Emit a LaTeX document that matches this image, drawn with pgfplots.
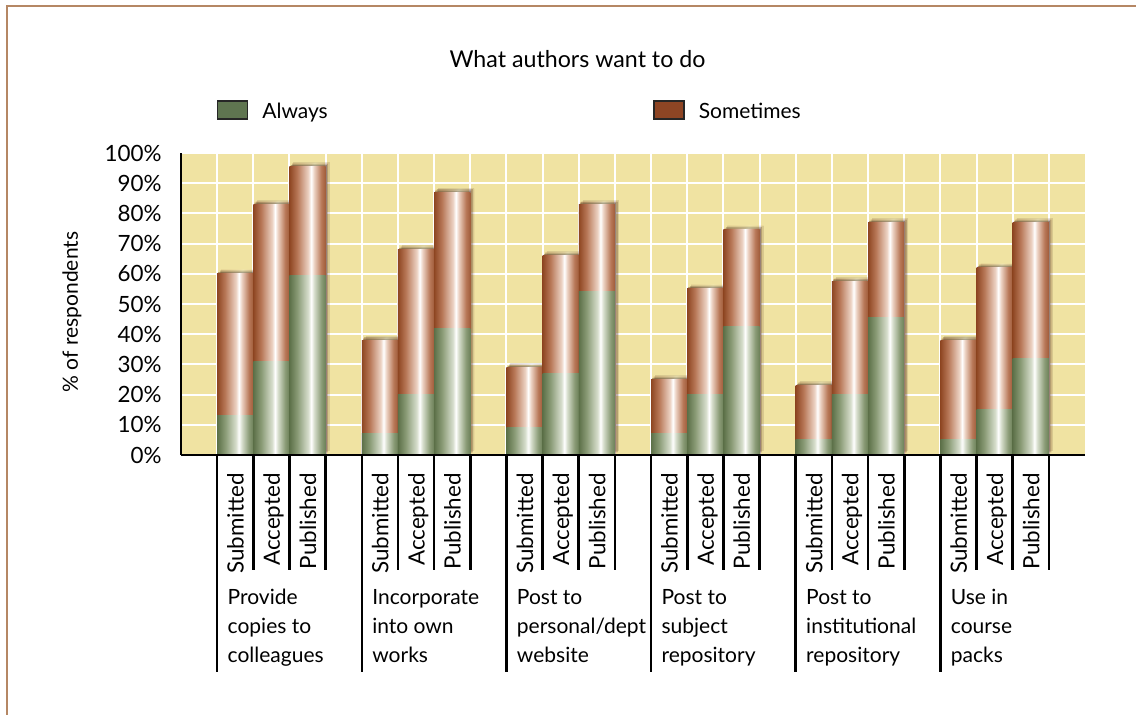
\documentclass[border=0pt]{standalone}
\usepackage{fontspec}
\setmainfont{Lato}
\usepackage{pgfplots}
\pgfplotsset{compat=1.18}
\usepackage{pgfplotstable}
\usetikzlibrary{shadows}

\definecolor{bgY}{RGB}{240,227,162}
\definecolor{gD}{RGB}{92,112,72}
\definecolor{gM}{RGB}{138,155,118}
\definecolor{gL}{RGB}{215,222,205}
\definecolor{gR}{RGB}{108,128,88}
\definecolor{bD}{RGB}{142,70,34}
\definecolor{bM}{RGB}{184,120,88}
\definecolor{bL}{RGB}{236,210,195}
\definecolor{bR}{RGB}{160,92,58}
\definecolor{legG}{RGB}{95,117,80}
\definecolor{legB}{RGB}{142,69,36}
\definecolor{frameC}{RGB}{181,135,100}

\pgfdeclarehorizontalshading{greenbar}{100bp}{color(0bp)=(gD); color(25bp)=(gD); color(36bp)=(gM); color(51bp)=(gL); color(55bp)=(white); color(59bp)=(gL); color(69bp)=(gM); color(75bp)=(gR); color(100bp)=(gR)}
\pgfdeclarehorizontalshading{brownbar}{100bp}{color(0bp)=(bD); color(25bp)=(bD); color(36bp)=(bM); color(51bp)=(bL); color(55bp)=(white); color(59bp)=(bL); color(69bp)=(bM); color(75bp)=(bR); color(100bp)=(bR)}

% x: bar centre; always: % always; total: always + sometimes
\pgfplotstableread{
x always total
1.5 13 60
2.5 31 83
3.5 59.5 95.5
5.5 7 38
6.5 20 68
7.5 42 87
9.5 9 29
10.5 27 66
11.5 54 83
13.5 7 25
14.5 20 55
15.5 42.5 74.5
17.5 5 23
18.5 20 57.5
19.5 45.5 77
21.5 5 38
22.5 15 62
23.5 32 77
}\datatable

\newcommand{\lbl}{\fontsize{10.5}{13}\selectfont}

\begin{document}
\fontsize{11.2}{14.7}\selectfont
\begin{tikzpicture}
\useasboundingbox (0,0) rectangle (568pt,357.5pt);
\draw[frameC, line width=1pt] (3.35pt,0pt) -- (3.35pt,354.6pt) -- (568pt,354.6pt);
\begin{axis}[
  at={(90.5pt,130pt)}, anchor=south west,
  scale only axis, width=452pt, height=151pt,
  xmin=0, xmax=25, ymin=0, ymax=100,
  enlargelimits=false,
  axis x line*=bottom, axis y line*=left,
  axis line style={black, line width=1pt},
  axis background/.style={fill=bgY},
  xtick={1,...,24}, xticklabels={},
  ytick={0,10,...,100},
  yticklabel={\pgfmathprintnumber{\tick}\%},
  /pgf/number format/assume math mode=true,
  major tick length=0pt,
  y tick label style={xshift=-5.8pt},
  grid=major,
  major grid style={white, line width=1pt},
  clip=false,
  title={\fontsize{11.6}{14}\selectfont What authors want to do},
  every axis title/.style={at={(0.4386,1.283)}, anchor=base, inner sep=0pt},
  ylabel={\lbl\% of respondents},
  every axis y label/.style={at={(-0.1206,0.4735)}, rotate=90, anchor=center, inner sep=0pt},
  legend columns=2,
  legend style={at={(0.0398,1.139)}, anchor=west, draw=none, fill=none, inner sep=0pt, outer sep=0pt,
    font=\lbl,
    nodes={anchor=base west, inner sep=0pt, text width=195.5pt},
    /tikz/every odd column/.append style={column sep=7pt},
    /tikz/every even column/.append style={column sep=0pt}},
  brownbar/.style={forget plot, ybar, bar width=1, bar shift=0pt, draw=none, shading=brownbar,
    drop shadow={shadow xshift=0.6pt, shadow yshift=0.7pt, opacity=0.22, fill=black},
    drop shadow={shadow xshift=1.3pt, shadow yshift=1.4pt, opacity=0.15, fill=black},
    drop shadow={shadow xshift=2.0pt, shadow yshift=2.1pt, opacity=0.08, fill=black}},
  greenbar/.style={forget plot, ybar, bar width=1, bar shift=0pt, draw=none, shading=greenbar},
]
\addlegendimage{legend image code/.code={\draw[fill=legG, draw=black!85, line width=0.7pt] (0pt,-0.4pt) rectangle (15pt,8.6pt);}}
\addlegendentry{Always}
\addlegendimage{legend image code/.code={\draw[fill=legB, draw=black!85, line width=0.7pt] (0pt,-0.4pt) rectangle (15pt,8.6pt);}}
\addlegendentry{Sometimes}

% one plot per bar, so that each bar gets its own shading
\pgfplotsinvokeforeach{1:2,2:3,3:4,5:6,6:7,7:8,9:10,10:11,11:12,13:14,14:15,15:16,17:18,18:19,19:20,21:22,22:23,23:24}{
  \addplot[brownbar, restrict x to domain=#1] table[x=x, y=total] {\datatable};
}
\pgfplotsinvokeforeach{1:2,2:3,3:4,5:6,6:7,7:8,9:10,10:11,11:12,13:14,14:15,15:16,17:18,18:19,19:20,21:22,22:23,23:24}{
  \addplot[greenbar, restrict x to domain=#1] table[x=x, y=always] {\datatable};
}

\draw[line width=1pt] (axis cs:0,0) -- (axis cs:25,0);
\draw[line width=1pt] (axis cs:0,0) -- (axis cs:0,100);
\pgfplotsinvokeforeach{1,5,9,13,17,21}{\draw[line width=1.3pt] (axis cs:#1,0) -- (axis cs:#1,-71.85);}
\pgfplotsinvokeforeach{2,3,4,6,7,8,10,11,12,14,15,16,18,19,20,22,23,24}{\draw[line width=1.3pt] (axis cs:#1,0) -- (axis cs:#1,-38.08);}
\pgfplotsinvokeforeach{1.735,5.735,9.735,13.735,17.735,21.735}{\node[rotate=90, anchor=base east, inner sep=0pt] at (axis cs:#1,-5.96) {Submitted};}
\pgfplotsinvokeforeach{2.735,6.735,10.735,14.735,18.735,22.735}{\node[rotate=90, anchor=base east, inner sep=0pt] at (axis cs:#1,-5.96) {Accepted};}
\pgfplotsinvokeforeach{3.735,7.735,11.735,15.735,19.735,23.735}{\node[rotate=90, anchor=base east, inner sep=0pt] at (axis cs:#1,-5.96) {Published};}

\node[anchor=base west, inner sep=0pt, font=\lbl] at (axis cs:1.28,-49.44) {Provide};
\node[anchor=base west, inner sep=0pt, font=\lbl] at (axis cs:1.28,-59.27) {copies to};
\node[anchor=base west, inner sep=0pt, font=\lbl] at (axis cs:1.28,-68.87) {colleagues};
\node[anchor=base west, inner sep=0pt, font=\lbl] at (axis cs:5.28,-49.44) {Incorporate};
\node[anchor=base west, inner sep=0pt, font=\lbl] at (axis cs:5.28,-59.27) {into own};
\node[anchor=base west, inner sep=0pt, font=\lbl] at (axis cs:5.28,-68.87) {works};
\node[anchor=base west, inner sep=0pt, font=\lbl] at (axis cs:9.28,-49.44) {Post to};
\node[anchor=base west, inner sep=0pt, font=\lbl] at (axis cs:9.28,-59.27) {personal/dept};
\node[anchor=base west, inner sep=0pt, font=\lbl] at (axis cs:9.28,-68.87) {website};
\node[anchor=base west, inner sep=0pt, font=\lbl] at (axis cs:13.28,-49.44) {Post to};
\node[anchor=base west, inner sep=0pt, font=\lbl] at (axis cs:13.28,-59.27) {subject};
\node[anchor=base west, inner sep=0pt, font=\lbl] at (axis cs:13.28,-68.87) {repository};
\node[anchor=base west, inner sep=0pt, font=\lbl] at (axis cs:17.28,-49.44) {Post to};
\node[anchor=base west, inner sep=0pt, font=\lbl] at (axis cs:17.28,-59.27) {institutional};
\node[anchor=base west, inner sep=0pt, font=\lbl] at (axis cs:17.28,-68.87) {repository};
\node[anchor=base west, inner sep=0pt, font=\lbl] at (axis cs:21.28,-49.44) {Use in};
\node[anchor=base west, inner sep=0pt, font=\lbl] at (axis cs:21.28,-59.27) {course};
\node[anchor=base west, inner sep=0pt, font=\lbl] at (axis cs:21.28,-68.87) {packs};
\end{axis}
\end{tikzpicture}
\end{document}
